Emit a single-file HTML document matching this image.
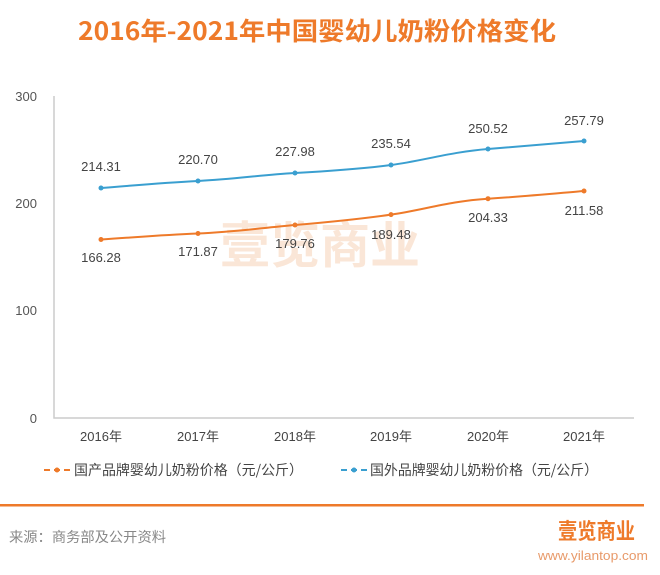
<!DOCTYPE html>
<html><head><meta charset="utf-8"><style>
body{margin:0;width:660px;height:570px;background:#fff;overflow:hidden}
</style></head><body>
<svg width="660" height="570" xmlns="http://www.w3.org/2000/svg" font-family="'Liberation Sans','Noto Sans CJK SC',sans-serif">
<text x="317" y="40" text-anchor="middle" font-size="25" font-weight="bold" fill="#ee7a2a" font-family="'Noto Sans CJK SC',sans-serif" textLength="478" lengthAdjust="spacingAndGlyphs">2016年-2021年中国婴幼儿奶粉价格变化</text>
<text x="320" y="263" text-anchor="middle" font-size="50" font-weight="bold" fill="#f6c9a8" opacity="0.45" font-family="'Noto Sans CJK SC',sans-serif" textLength="200" lengthAdjust="spacingAndGlyphs">壹览商业</text>
<g font-size="13" fill="#555" text-anchor="end">
<text x="37" y="101">300</text><text x="37" y="208">200</text><text x="37" y="315">100</text><text x="37" y="423">0</text>
</g>
<path d="M54 96 V418 H634" stroke="#ccc" stroke-width="1.5" fill="none"/>
<g font-size="13" fill="#444" text-anchor="middle" font-family="'Liberation Sans','Noto Sans CJK SC',sans-serif">
<text x="101" y="441">2016年</text><text x="198" y="441">2017年</text><text x="295" y="441">2018年</text><text x="391" y="441">2019年</text><text x="488" y="441">2020年</text><text x="584" y="441">2021年</text>
</g>
<path d="M101 188 C140 185,160 183,198 181 S260 175,295 173 S360 169,391 165 S450 152,488 149 S560 143,584 141" stroke="#3a9fd0" stroke-width="2" fill="none"/>
<path d="M101 239.5 C140 237,160 235,198 233.5 S260 228,295 225 S360 219,391 214.6 S450 201,488 198.7 S560 193,584 191" stroke="#ee7a2a" stroke-width="2" fill="none"/>
<g fill="#3a9fd0"><circle cx="101" cy="188" r="2.5"/><circle cx="198" cy="181" r="2.5"/><circle cx="295" cy="173" r="2.5"/><circle cx="391" cy="165" r="2.5"/><circle cx="488" cy="149" r="2.5"/><circle cx="584" cy="141" r="2.5"/></g>
<g fill="#ee7a2a"><circle cx="101" cy="239.5" r="2.5"/><circle cx="198" cy="233.5" r="2.5"/><circle cx="295" cy="225" r="2.5"/><circle cx="391" cy="214.6" r="2.5"/><circle cx="488" cy="198.7" r="2.5"/><circle cx="584" cy="191" r="2.5"/></g>
<g font-size="13" fill="#444" text-anchor="middle">
<text x="101" y="171">214.31</text><text x="198" y="164">220.70</text><text x="295" y="156">227.98</text><text x="391" y="148">235.54</text><text x="488" y="133">250.52</text><text x="584" y="125">257.79</text>
<text x="101" y="262">166.28</text><text x="198" y="256">171.87</text><text x="295" y="248">179.76</text><text x="391" y="239">189.48</text><text x="488" y="222">204.33</text><text x="584" y="215">211.58</text>
</g>
<g font-size="14" fill="#444" font-family="'Noto Sans CJK SC',sans-serif">
<path d="M44 470 H70" stroke="#ee7a2a" stroke-width="2" stroke-dasharray="6 4"/><circle cx="57" cy="470" r="2.5" fill="#ee7a2a"/>
<text x="74" y="475" textLength="229" lengthAdjust="spacingAndGlyphs">国产品牌婴幼儿奶粉价格（元/公斤）</text>
<path d="M341 470 H367" stroke="#3a9fd0" stroke-width="2" stroke-dasharray="6 4"/><circle cx="354" cy="470" r="2.5" fill="#3a9fd0"/>
<text x="370" y="475" textLength="228" lengthAdjust="spacingAndGlyphs">国外品牌婴幼儿奶粉价格（元/公斤）</text>
</g>
<rect x="0" y="504" width="644" height="2.5" fill="#ee7a2a"/>
<text x="9" y="542" font-size="14" fill="#888" font-family="'Noto Sans CJK SC',sans-serif" textLength="157" lengthAdjust="spacingAndGlyphs">来源：商务部及公开资料</text>
<text x="558" y="539" font-size="22" font-weight="bold" fill="#ee7a2a" font-family="'Noto Sans CJK SC',sans-serif" textLength="77" lengthAdjust="spacingAndGlyphs">壹览商业</text>
<text x="648" y="560" text-anchor="end" font-size="12.5" fill="#e89a6a" textLength="110" lengthAdjust="spacingAndGlyphs">www.yilantop.com</text>
</svg>
</body></html>
